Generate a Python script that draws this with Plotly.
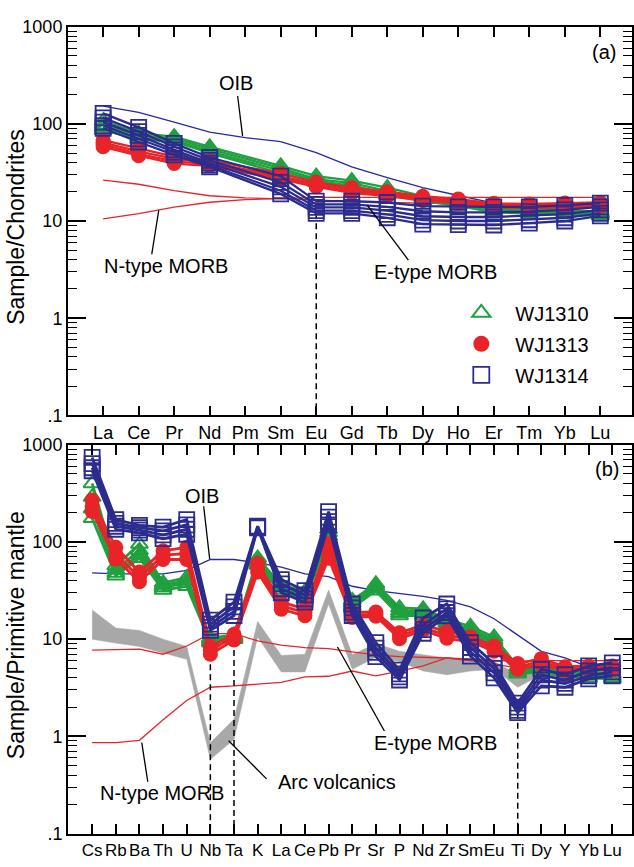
import plotly.graph_objects as go

W, H = 634, 867

# ---------------- Panel (a): chondrite-normalised REE ----------------
REE = ["La", "Ce", "Pr", "Nd", "Pm", "Sm", "Eu", "Gd", "Tb", "Dy", "Ho", "Er", "Tm", "Yb", "Lu"]
OIB_REE = [152, 131, 104, 82, 72, 65.5, 50.5, 36, 28, 22, 18.3, 15.3, 13.8, 13.6, 14.2]
NMORB_REE = [10.5, 11.9, 13.9, 15.6, 16.6, 17.1, 17.5, 17.5, 17.5, 17.5, 17.5, 17.5, 17.5, 17.5, 17.5]
EMORB_REE = [26.4, 23.9, 20.5, 18.2, 17.3, 17.0, 16.5, 15.8, 15.5, 15.2, 15.0, 15.0, 15.0, 15.2, 15.0]

WJ1310_REE = [
    [107, 80, 74, 58, None, 37, 29, 26, 22, 18, 16, 14, 13.5, 13, 12.5],
    [98, 76, 71, 55, None, 35, 27, 24.5, 20.5, 17, 15.3, 13.3, 13, 12.5, 12],
    [92, 72, 68, 52, None, 33, 26, 23, 19.5, 16.5, 14.8, 12.8, 12.5, 12, 11.7],
    [86, 69, 66, 50, None, 31, 25, 22, 18.5, 16, 14.3, 12.3, 12, 11.7, 11.3],
]
WJ1313_REE = [
    [68, 56, 46, 42, None, 31, 25, 22, 20, 18, 16.8, 15.2, 15, 15.3, 15.5],
    [64, 52, 43.5, 40, None, 29, 24, 21, 19.2, 17.3, 16.2, 14.7, 14.5, 14.7, 15],
    [61, 49, 41, 38.5, None, 28, 23, 20, 18.6, 16.8, 15.6, 14.3, 14, 14.2, 14.5],
    [58, 47, 39, 37, None, 27, 22.5, 19.5, 18, 16.3, 15.2, 13.8, 13.6, 13.8, 14],
]
WJ1314_REE = [
    [128, 92, 63, 45, None, 29, 16, 16, 15.5, 14.2, 14, 14, 14, 14.5, 15.3],
    [115, 83, 58, 42, None, 25, 14.8, 14.8, 14, 12.6, 12.3, 12.3, 12.5, 13, 14],
    [104, 76, 54, 39.5, None, 22.5, 13.8, 13.8, 12.8, 11.2, 11, 11, 11.3, 11.8, 13],
    [96, 70, 51, 37.5, None, 20.5, 12.8, 12.8, 11.7, 10.2, 10, 10, 10.3, 10.8, 12],
    [90, 65, 48, 36, None, 19, 12, 12, 10.8, 9.3, 9.2, 9.1, 9.5, 10, 11.3],
]

# ---------------- Panel (b): primitive-mantle-normalised spider ----------------
TE = ["Cs", "Rb", "Ba", "Th", "U", "Nb", "Ta", "K", "La", "Ce", "Pb", "Pr", "Sr", "P",
      "Nd", "Zr", "Sm", "Eu", "Ti", "Dy", "Y", "Yb", "Lu"]
OIB_TE = [48, 47, 47, 47, 51, 66, 66, 61, 55, 47, 44, 35, 31.6, 29.5, 27.5, 25, 21.5,
          16.2, 11, 7.5, 6.4, 5.2, 4.7]
NMORB_TE = [0.86, 0.86, 0.91, 1.48, 2.34, 3.2, 3.3, 3.45, 3.6, 4.1, 4.15, 4.7, 4.2, 4.7,
            5.3, 6.4, 6.2, 6.1, 5.9, 6.0, 6.0, 6.0, 6.0]
EMORB_TE = [7.7, 7.8, 7.9, 7.0, 8.5, 11.4, 11.4, 9.6, 8.7, 8.2, 8.0, 7.4, 6.9, 6.6, 6.5,
            6.4, 6.0, 5.6, 5.0, 5.0, 5.0, 5.0, 5.0]
ARC_HI = [20, 13, 12.3, 10, 8.4, 0.86, 1.5, 15.2, 6.8, 7.0, 32, 6.9, 9.0, 7.5, 6.9, 6.4,
          6.2, 5.9, 4.3, 5.5, 5.3, 5.3, 5.3]
ARC_LO = [10, 9.1, 8.4, 7.2, 6.2, 0.58, 0.93, 10.5, 4.6, 4.6, 23, 4.9, 6.5, 5.9, 4.7,
          4.3, 4.7, 4.9, 3.2, 4.3, 4.2, 4.2, 4.2]

WJ1310_TE = [
    [400, 57, 95, 38, 43, 10.3, 11, 68, 36, 31, 135, 25, 37, 21, 20.5, 16, 13.5, 10.5, 5.2, 5.2, 4.7, 4.6, 4.4],
    [290, 52, 82, 36, 40, 9.9, 10.6, 64, 34, 29, 125, 23.5, 35, 19.5, 19.5, 14.8, 12.7, 9.8, 4.9, 5.0, 4.5, 4.4, 4.2],
    [220, 48, 74, 34, 38, 9.5, 10.3, 61, 32, 27.5, 115, 22, 33, 18.5, 18.5, 13.8, 12, 9.3, 4.6, 4.8, 4.3, 4.2, 4.0],
    [175, 45, 68, 32, 35, 9.2, 10, 58, 30, 26, 107, 21, 31.5, 17.5, 17.5, 13, 11.3, 8.8, 4.4, 4.6, 4.1, 4.0, 3.9],
]
WJ1313_TE = [
    [270, 88, 49, 81, 88, 8.4, 11.2, 60, 24, 20.5, 95, 19, 19, 11.6, 14, 12, 10.6, 8.5, 5.6, 6.3, 5.2, 5.3, 5.3],
    [232, 75, 43, 73, 76, 7.7, 10.5, 54, 22, 18.8, 80, 17.8, 18, 10.8, 13, 11, 10, 8, 5.2, 5.9, 4.9, 5.1, 5.0],
    [206, 67, 39, 66, 66, 7.0, 9.8, 49, 20.3, 17.4, 68, 16.7, 17.2, 10.1, 12.3, 10.2, 9.4, 7.5, 4.9, 5.5, 4.7, 4.9, 4.8],
]
WJ1314_TE = [
    [740, 170, 148, 142, 170, 15.7, 24, 145, 41, 31.5, 205, 23, 9.2, 4.8, 16.5, 23, 9.2, 5.6, 2.2, 4.9, 4.3, 5.3, 5.7],
    [640, 155, 140, 130, 150, 14.3, 21.5, 143, 37, 28.5, 180, 21, 8.1, 4.4, 14, 20.5, 8.2, 5.0, 2.0, 4.3, 3.8, 4.7, 5.1],
    [580, 145, 132, 118, 135, 13.2, 19.3, 141, 33, 26, 162, 19, 7.3, 4.1, 12.5, 18.8, 7.4, 4.5, 1.85, 3.8, 3.5, 4.2, 4.6],
    [540, 135, 124, 108, 120, 12.3, 17.5, 140, 30, 24, 150, 17.5, 6.6, 3.8, 11.5, 17.4, 6.7, 4.0, 1.75, 3.3, 3.2, 3.9, 4.2],
]

# ---------------- styles ----------------
GREEN = "rgb(32,160,62)"
RED = "rgb(232,36,40)"
NAVY = "rgb(44,44,142)"
OIBC = "rgb(40,40,160)"
GRAY = "rgb(168,168,168)"
FONT = "Liberation Sans, Arial, sans-serif"


def px(x):
    return x / W


def py(y):
    return 1 - y / H


fig = go.Figure()

# ---- panel (a) ----
xa = list(range(len(REE)))
fig.add_trace(go.Scatter(x=xa, y=OIB_REE, mode="lines", line=dict(color=OIBC, width=1.3),
                         showlegend=False, xaxis="x", yaxis="y"))
fig.add_trace(go.Scatter(x=xa, y=NMORB_REE, mode="lines", line=dict(color=RED, width=1.3),
                         showlegend=False, xaxis="x", yaxis="y"))
fig.add_trace(go.Scatter(x=xa, y=EMORB_REE, mode="lines", line=dict(color=RED, width=1.3),
                         showlegend=False, xaxis="x", yaxis="y"))
eu = REE.index("Eu")
fig.add_trace(go.Scatter(x=[eu, eu], y=[min(s[eu] for s in WJ1314_REE), 0.1], mode="lines",
                         line=dict(color="black", width=1.5, dash="6px,4px"),
                         showlegend=False, xaxis="x", yaxis="y"))

STY = {
    "WJ1310": dict(color=GREEN, symbol="triangle-up-open", size=15, lw=2.0),
    "WJ1313": dict(color=RED, symbol="circle", size=15, lw=0),
    "WJ1314": dict(color=NAVY, symbol="square-open", size=15, lw=1.8),
}


def add_samples(name, rows, xs, xaxis, yaxis, width):
    st = STY[name]
    for r in rows:
        fig.add_trace(go.Scatter(
            x=xs, y=r, mode="lines+markers", connectgaps=True,
            line=dict(color=st["color"], width=width),
            marker=dict(symbol=st["symbol"], size=st["size"], color=st["color"],
                        line=dict(color=st["color"], width=st["lw"])),
            showlegend=False, xaxis=xaxis, yaxis=yaxis))


add_samples("WJ1310", WJ1310_REE, xa, "x", "y", 2.3)
add_samples("WJ1313", WJ1313_REE, xa, "x", "y", 2.3)
add_samples("WJ1314", WJ1314_REE, xa, "x", "y", 2.3)

# ---- panel (b) ----
xb = list(range(len(TE)))
fig.add_trace(go.Scatter(x=xb + xb[::-1], y=ARC_HI + ARC_LO[::-1], mode="lines",
                         fill="toself", fillcolor=GRAY, line=dict(color=GRAY, width=0.5),
                         showlegend=False, xaxis="x2", yaxis="y2"))
fig.add_trace(go.Scatter(x=xb, y=OIB_TE, mode="lines", line=dict(color=OIBC, width=1.3),
                         showlegend=False, xaxis="x2", yaxis="y2"))
fig.add_trace(go.Scatter(x=xb, y=NMORB_TE, mode="lines", line=dict(color=RED, width=1.3),
                         showlegend=False, xaxis="x2", yaxis="y2"))
fig.add_trace(go.Scatter(x=xb, y=EMORB_TE, mode="lines", line=dict(color=RED, width=1.3),
                         showlegend=False, xaxis="x2", yaxis="y2"))
for el, rows in (("Nb", WJ1313_TE), ("Ta", WJ1313_TE), ("Ti", WJ1314_TE)):
    i = TE.index(el)
    fig.add_trace(go.Scatter(x=[i, i], y=[min(r[i] for r in rows), 0.1], mode="lines",
                             line=dict(color="black", width=1.5, dash="6px,4px"),
                             showlegend=False, xaxis="x2", yaxis="y2"))

add_samples("WJ1310", WJ1310_TE, xb, "x2", "y2", 2.8)
add_samples("WJ1313", WJ1313_TE, xb, "x2", "y2", 2.8)
add_samples("WJ1314", WJ1314_TE, xb, "x2", "y2", 2.8)

# legend entries (markers only)
for name in ("WJ1310", "WJ1313", "WJ1314"):
    st = STY[name]
    fig.add_trace(go.Scatter(
        x=[None], y=[None], mode="markers", name=name, legendgroup=name,
        marker=dict(symbol=st["symbol"], size=st["size"] + 4, color=st["color"],
                    line=dict(color=st["color"], width=st["lw"])),
        xaxis="x", yaxis="y"))

# ---------------- axes ----------------
LOGTV = [0.1, 1, 10, 100, 1000]
LOGTT = [".1", "1", "10", "100", "1000"]


def xax(labels, rng, dom, anchor, fsize):
    return dict(domain=dom, range=rng, anchor=anchor, tickmode="array",
                tickvals=list(range(len(labels))), ticktext=labels, tickangle=0,
                ticks="inside", ticklen=10, tickwidth=1.5, tickcolor="black",
                showline=True, linecolor="black", linewidth=1.8, mirror="allticks",
                showgrid=False, zeroline=False,
                tickfont=dict(family=FONT, size=fsize, color="black"))


def yax(dom, anchor):
    return dict(domain=dom, type="log", range=[-1, 3], anchor=anchor,
                tickmode="array", tickvals=LOGTV, ticktext=LOGTT,
                ticks="inside", ticklen=18, tickwidth=1.5, tickcolor="black",
                minor=dict(ticks="inside", ticklen=9, tickwidth=1.2, tickcolor="black",
                           dtick="D1", showgrid=False),
                showline=True, linecolor="black", linewidth=1.8, mirror="allticks",
                showgrid=False, zeroline=False,
                tickfont=dict(family=FONT, size=18, color="black"))


xdom = [68 / W, 633 / W]
fig.update_layout(
    width=W, height=H, margin=dict(l=0, r=0, t=0, b=0),
    paper_bgcolor="white", plot_bgcolor="white",
    xaxis=xax(REE, [(68 - 103.3) / 35.57, (633 - 103.3) / 35.57], xdom, "y", 18),
    yaxis=yax([py(415), py(17)], "x"),
    xaxis2=xax(TE, [(68 - 92.3) / 23.68, (633 - 92.3) / 23.68], xdom, "y2", 17),
    yaxis2=yax([py(843), py(445)], "x2"),
    legend=dict(x=px(448), y=py(290), xanchor="left", yanchor="top",
                bgcolor="rgba(0,0,0,0)", font=dict(family=FONT, size=20, color="black"),
                tracegroupgap=2, itemsizing="trace", itemwidth=58),
    showlegend=True,
)

# ---------------- annotations & leader lines ----------------
ann = []


def txt(s, x, y, size=20, angle=0):
    ann.append(dict(text=s, x=px(x), y=py(y), xref="paper", yref="paper",
                    showarrow=False, textangle=angle,
                    font=dict(family=FONT, size=size, color="black"),
                    xanchor="center", yanchor="middle"))


shapes = []


def lead(x0, y0, x1, y1):
    shapes.append(dict(type="line", xref="paper", yref="paper",
                       x0=px(x0), y0=py(y0), x1=px(x1), y1=py(y1),
                       line=dict(color="black", width=1.3)))


txt("OIB", 236, 75)
lead(238, 88, 243, 129)
txt("N-type MORB", 166, 262)
lead(159, 205, 152, 250)
txt("E-type MORB", 436, 268)
lead(368, 200, 409, 256)
txt("(a)", 605, 43)

txt("OIB", 202, 497)
lead(204, 508, 210, 562)
txt("E-type MORB", 436, 750)
lead(338, 652, 385, 738)
txt("Arc volcanics", 338, 790)
lead(229, 748, 267, 787)
txt("N-type MORB", 162, 802)
lead(142, 750, 148, 790)
txt("(b)", 608, 470)

txt("Sample/Chondrites", 16, 222, size=23, angle=-90)
txt("Sample/Primitive mantle", 16, 640, size=23, angle=-90)

fig.update_layout(annotations=ann, shapes=shapes)

fig.write_html("out.html")
